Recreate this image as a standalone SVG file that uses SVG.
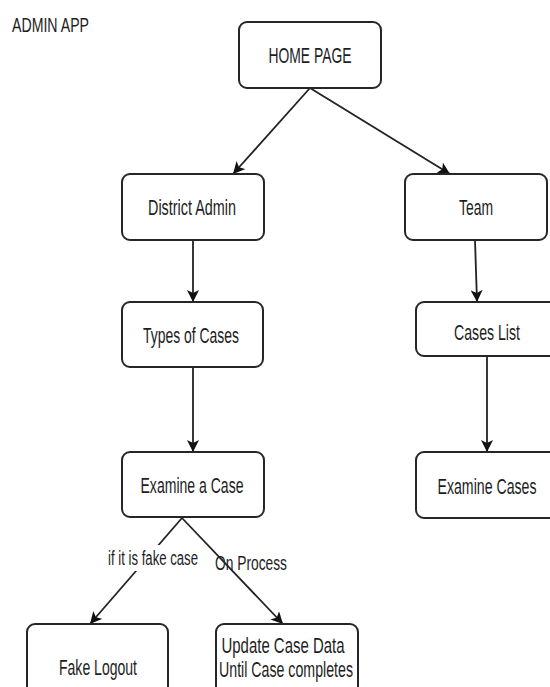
<svg xmlns="http://www.w3.org/2000/svg" width="550" height="687" viewBox="0 0 550 687">
<style>
.box{fill:#fff;stroke:#262626;stroke-width:2}
.t{font-family:"Liberation Sans",Arial,sans-serif;font-size:22px;fill:#1e1e1e;text-anchor:middle}
.lb{font-family:"Liberation Sans",Arial,sans-serif;font-size:20px;fill:#1e1e1e;text-anchor:middle}
.c{fill:none;stroke:#222;stroke-width:1.8;marker-end:url(#ah)}
</style>
<defs>
<marker id="ah" viewBox="0 0 10 10" refX="10" refY="5" markerWidth="12" markerHeight="12" markerUnits="userSpaceOnUse" orient="auto">
<path d="M0,0 L10,5 L0,10 L2.5,5 Z" fill="#111"/>
</marker>
</defs>
<rect width="550" height="687" fill="#fff"/>
<text x="12" y="32" font-family="Liberation Sans,Arial,sans-serif" font-size="20" fill="#1e1e1e" textLength="77" lengthAdjust="spacingAndGlyphs">ADMIN APP</text>
<g id="connectors">
<line class="c" x1="310" y1="88" x2="233" y2="174"/>
<line class="c" x1="310" y1="88" x2="450" y2="174"/>
<line class="c" x1="193" y1="240" x2="193" y2="302"/>
<line class="c" x1="475" y1="240" x2="477" y2="302"/>
<line class="c" x1="193" y1="367" x2="193" y2="452"/>
<line class="c" x1="487" y1="356" x2="487" y2="452"/>
<line class="c" x1="182" y1="518" x2="90" y2="624"/>
<line class="c" x1="182" y1="518" x2="283" y2="624"/>
<rect x="107" y="545" width="92" height="26" fill="#fff"/>
<text class="lb" x="153" y="565" textLength="90" lengthAdjust="spacingAndGlyphs">if it is fake case</text>
<text class="lb" x="251" y="570" textLength="72" lengthAdjust="spacingAndGlyphs">On Process</text>
</g>
<g id="home"><rect class="box" x="239" y="22" width="142" height="66" rx="8"/><text class="t" x="310" y="63" textLength="83" lengthAdjust="spacingAndGlyphs">HOME PAGE</text></g>
<g id="district"><rect class="box" x="122" y="174" width="142" height="66" rx="8"/><text class="t" x="192" y="215" textLength="88" lengthAdjust="spacingAndGlyphs">District Admin</text></g>
<g id="team"><rect class="box" x="405" y="174" width="142" height="66" rx="8"/><text class="t" x="476" y="215" textLength="34" lengthAdjust="spacingAndGlyphs">Team</text></g>
<g id="types"><rect class="box" x="122" y="302" width="141" height="65" rx="8"/><text class="t" x="191" y="343" textLength="96" lengthAdjust="spacingAndGlyphs">Types of Cases</text></g>
<g id="caseslist"><rect class="box" x="416" y="302" width="142" height="54" rx="8"/><text class="t" x="487" y="340" textLength="66" lengthAdjust="spacingAndGlyphs">Cases List</text></g>
<g id="examine"><rect class="box" x="122" y="452" width="142" height="65" rx="8"/><text class="t" x="192" y="493" textLength="103" lengthAdjust="spacingAndGlyphs">Examine a Case</text></g>
<g id="examinecases"><rect class="box" x="416" y="452" width="142" height="66" rx="8"/><text class="t" x="487" y="494" textLength="99" lengthAdjust="spacingAndGlyphs">Examine Cases</text></g>
<g id="fake"><rect class="box" x="27" y="624" width="141" height="80" rx="8"/><text class="t" x="98" y="675" textLength="78" lengthAdjust="spacingAndGlyphs">Fake Logout</text></g>
<g id="update"><rect class="box" x="216" y="624" width="142" height="80" rx="8"/><text class="t" x="283" y="653" textLength="123" lengthAdjust="spacingAndGlyphs">Update Case Data</text><text class="t" x="286" y="677" textLength="134" lengthAdjust="spacingAndGlyphs">Until Case completes</text></g>
</svg>
